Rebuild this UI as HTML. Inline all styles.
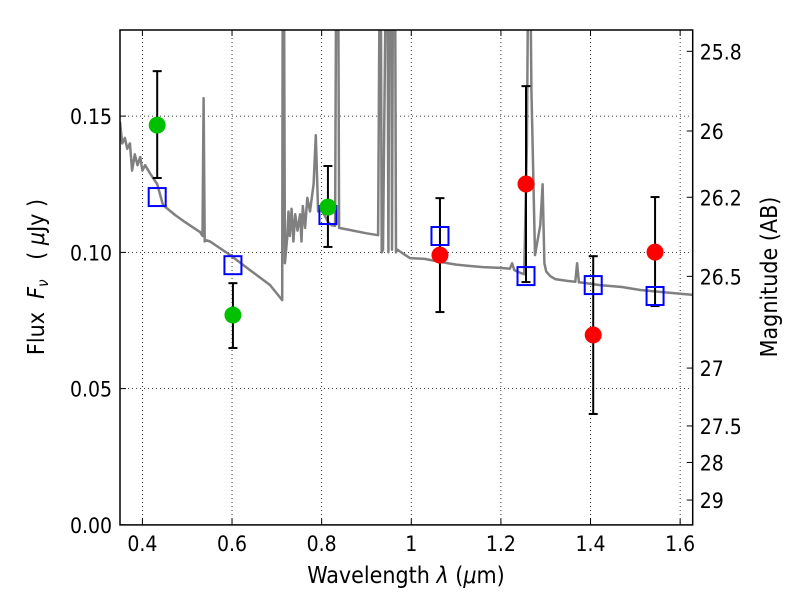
<!DOCTYPE html>
<html><head><meta charset="utf-8"><style>
body{margin:0;background:#fff}
svg text{font-family:"DejaVu Sans Condensed","DejaVu Sans","Liberation Sans",sans-serif;fill:#000}
</style></head><body>
<svg id="chart" width="800" height="600" viewBox="0 0 800 600" xmlns="http://www.w3.org/2000/svg">
<defs><clipPath id="clip"><rect x="120" y="30" width="572.7" height="494.9"/></clipPath></defs>
<rect width="800" height="600" fill="#fff"/>
<g id="grid"></g>
<g id="spec" clip-path="url(#clip)"></g>
<g id="marks"></g>
<rect x="120" y="30" width="572.7" height="494.9" fill="none" stroke="#000" stroke-width="1.5"/>
<g id="axes"></g>
<text x="406" y="583" font-size="23" text-anchor="middle">Wavelength  <tspan font-style="italic">λ</tspan> (<tspan font-style="italic">μ</tspan>m)</text>
<text transform="translate(44,277) rotate(-90)" font-size="23" text-anchor="middle" xml:space="preserve">Flux  <tspan font-style="italic">F<tspan font-size="15" dy="4">ν</tspan></tspan><tspan dy="-4">   ( <tspan font-style="italic">μ</tspan>Jy )</tspan></text>
<text transform="translate(777,277) rotate(-90)" font-size="23" text-anchor="middle">Magnitude (AB)</text>
</svg>
<script>
const xTicks=[0.4,0.6,0.8,1.0,1.2,1.4,1.6];
const xTickLabels=["0.4","0.6","0.8","1","1.2","1.4","1.6"];
const yTicks=[0,0.05,0.10,0.15];
const yTickLabels=["0.00","0.05","0.10","0.15"];
const magTicks=[25.8,26,26.2,26.5,27,27.5,28,29];
const magTickLabels=["25.8","26","26.2","26.5","27","27.5","28","29"];
const specLam=[0.350,0.355,0.361,0.366,0.372,0.377,0.383,0.389,0.395,0.400,0.406,0.417,0.433,0.446,0.473,0.495,0.529,0.534,0.5365,0.539,0.541,0.551,0.596,0.640,0.685,0.712,0.7135,0.715,0.718,0.723,0.726,0.729,0.733,0.737,0.741,0.746,0.752,0.755,0.758,0.763,0.768,0.774,0.782,0.787,0.792,0.796,0.805,0.815,0.822,0.830,0.8335,0.836,0.839,0.863,0.900,0.926,0.931,0.934,0.937,0.946,0.949,0.952,0.955,0.957,0.960,0.963,0.966,0.969,0.973,0.997,1.030,1.064,1.100,1.131,1.160,1.198,1.220,1.225,1.230,1.243,1.252,1.258,1.263,1.268,1.276,1.288,1.293,1.297,1.301,1.310,1.321,1.350,1.366,1.370,1.374,1.377,1.421,1.470,1.511,1.555,1.600,1.630];
const specFlux=[0.1480,0.1400,0.1420,0.1380,0.1400,0.1300,0.1360,0.1320,0.1350,0.1300,0.1320,0.1290,0.1250,0.1174,0.1137,0.1111,0.1074,0.1060,0.1566,0.1040,0.1045,0.1040,0.0990,0.0935,0.0880,0.0825,0.2500,0.2500,0.0960,0.1050,0.1150,0.1060,0.1160,0.1040,0.1140,0.1080,0.1140,0.1040,0.1170,0.1090,0.1200,0.1150,0.1250,0.1430,0.1150,0.1163,0.1140,0.1110,0.1100,0.1097,0.2500,0.2500,0.1090,0.1082,0.1070,0.1063,0.2500,0.1000,0.1010,0.2500,0.1000,0.2500,0.2500,0.1010,0.2500,0.2500,0.1000,0.1010,0.1005,0.0979,0.0976,0.0965,0.0955,0.0950,0.0946,0.0943,0.0940,0.0960,0.0935,0.0925,0.0920,0.1400,0.2500,0.1600,0.0990,0.1100,0.1250,0.0960,0.0930,0.0913,0.0902,0.0895,0.0892,0.0960,0.0890,0.0890,0.0880,0.0873,0.0862,0.0855,0.0848,0.0844];
const detLam=[0.433,0.602,0.814,1.064,1.256,1.406,1.544];
const detFlux=[0.1467,0.0770,0.1166,0.0990,0.1251,0.0697,0.1001];
const detHi=[0.1665,0.0887,0.1317,0.1199,0.1610,0.0986,0.1203];
const detLo=[0.1273,0.0649,0.1020,0.0781,0.0891,0.0407,0.0803];
const detColor=["#00c000","#00c000","#00c000","red","red","red","red"];
const modelFlux=[0.1203,0.0953,0.1137,0.1060,0.0913,0.0880,0.0840];

const X0=120,X1=692.7,Y0=524.9,Y1=30,xmin=0.35,xmax=1.628,ymin=0,ymax=0.1816;
const sx=v=>X0+(v-xmin)/(xmax-xmin)*(X1-X0);
const sy=v=>Y0-(v-ymin)/(ymax-ymin)*(Y0-Y1);
const magToFlux=m=>Math.pow(10,(23.9-m)/2.5);
const NS="http://www.w3.org/2000/svg";
function mk(tag,attrs,parent){const e=document.createElementNS(NS,tag);for(const k in attrs)e.setAttribute(k,attrs[k]);parent.appendChild(e);return e;}
const grid=document.getElementById('grid'),axes=document.getElementById('axes'),spec=document.getElementById('spec'),marks=document.getElementById('marks');
xTicks.forEach((t,i)=>{const x=sx(t);
 let g=mk('line',{x1:x,x2:x,y1:Y1,y2:Y0,stroke:'#000','stroke-width':0.8,'stroke-dasharray':'1,3'},grid);
 
 mk('line',{x1:x,x2:x,y1:Y0,y2:Y0-6,stroke:'#000'},axes);mk('line',{x1:x,x2:x,y1:Y1,y2:Y1+6,stroke:'#000'},axes);
 const tx=mk('text',{x:x,y:Y0+26,'font-size':21,'text-anchor':'middle'},axes);tx.textContent=xTickLabels[i];
 });
yTicks.forEach((t,i)=>{const y=sy(t);
 let g=mk('line',{x1:X0,x2:X1,y1:y,y2:y,stroke:'#000','stroke-width':0.8,'stroke-dasharray':'1,3'},grid);
 
 mk('line',{x1:X0,x2:X0+6,y1:y,y2:y,stroke:'#000'},axes);
 const tx=mk('text',{x:X0-8,y:y+8,'font-size':21,'text-anchor':'end'},axes);tx.textContent=yTickLabels[i];
 });
magTicks.forEach((m,i)=>{const y=sy(magToFlux(m));
 mk('line',{x1:X1,x2:X1-6,y1:y,y2:y,stroke:'#000'},axes);
 const tx=mk('text',{x:X1+7,y:y+8,'font-size':21},axes);tx.textContent=magTickLabels[i];
 });
const pl=mk('polyline',{points:specLam.map((l,i)=>sx(l).toFixed(1)+','+sy(specFlux[i]).toFixed(1)).join(' '),fill:'none',stroke:'#808080','stroke-width':2.5,'stroke-linejoin':'round'},spec);

detLam.forEach((l,i)=>{const x=sx(l);
 const eb=mk('g',{stroke:'#000','stroke-width':2},marks);
 
 mk('line',{x1:x,x2:x,y1:sy(detHi[i]),y2:sy(detLo[i])},eb);
 mk('line',{x1:x-4.5,x2:x+4.5,y1:sy(detHi[i]),y2:sy(detHi[i])},eb);
 mk('line',{x1:x-4.5,x2:x+4.5,y1:sy(detLo[i]),y2:sy(detLo[i])},eb);
 const sq=mk('rect',{x:x-8.5,y:sy(modelFlux[i])-9,width:17,height:18,fill:'none',stroke:'#0000ff','stroke-width':2},marks);
 
 const c=mk('circle',{cx:x,cy:sy(detFlux[i]),r:8.5,fill:detColor[i]},marks);
 });
</script>
</body></html>
